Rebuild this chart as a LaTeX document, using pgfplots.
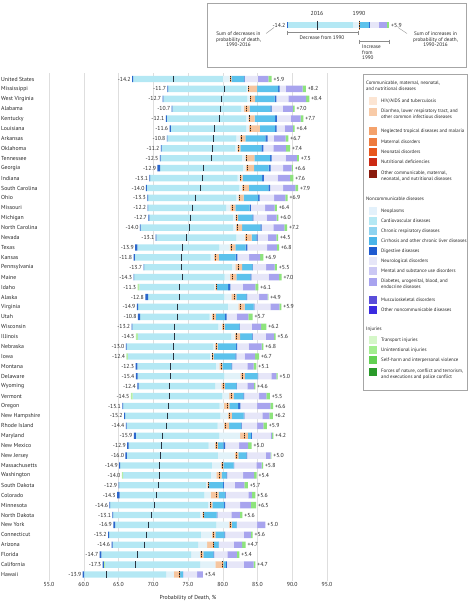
\documentclass[border=0pt]{standalone}
\usepackage{pgfplots}
\pgfplotsset{compat=1.18}
\usepackage{pgfplotstable}
\usepackage{fontspec}
\setmainfont{PT Sans}

\definecolor{cSB}{HTML}{2B66CC}
\definecolor{cSG}{HTML}{B5EEA5}
\definecolor{cCV}{HTML}{B4E8F4}
\definecolor{cNeo}{HTML}{E2F2F9}
\definecolor{cPea}{HTML}{F6C6A0}
\definecolor{cCR}{HTML}{5CC2EC}
\definecolor{cDig}{HTML}{2F6FD3}
\definecolor{cNeu}{HTML}{E6E6F8}
\definecolor{cMen}{HTML}{A8A4EE}
\definecolor{cUni}{HTML}{8EE47C}
\definecolor{cTick}{HTML}{2A3440}
\definecolor{cMark}{HTML}{F08A3C}
\definecolor{lHIV}{HTML}{FCE5D3}
\definecolor{lDia}{HTML}{F8CBA8}
\definecolor{lNTD}{HTML}{F4A26C}
\definecolor{lMat}{HTML}{EE7B3E}
\definecolor{lNeo}{HTML}{E8561C}
\definecolor{lNut}{HTML}{CC2A14}
\definecolor{lOth}{HTML}{8A1A0C}
\definecolor{lNpl}{HTML}{E3F1FB}
\definecolor{lCV}{HTML}{B4E8F4}
\definecolor{lCR}{HTML}{8ED3F0}
\definecolor{lCir}{HTML}{4AB4E8}
\definecolor{lDig}{HTML}{1F5AD0}
\definecolor{lNeu}{HTML}{E6E6F8}
\definecolor{lMen}{HTML}{CBC8F4}
\definecolor{lDia2}{HTML}{A8A3EF}
\definecolor{lMus}{HTML}{5A4EDA}
\definecolor{lONC}{HTML}{3A2AE0}
\definecolor{lTra}{HTML}{D5F7C8}
\definecolor{lUni}{HTML}{A3EE8F}
\definecolor{lSel}{HTML}{62D152}
\definecolor{lFor}{HTML}{2A9A2A}

\pgfplotstableread{
i L sb sg c p q a b k n m g M T R dec inc
1 66.95 0.15 0 12.9 1.0 0.15 0.1 1.8 0.1 1.9 1.5 0.5 81.15 72.85 87.05 -14.2 +5.9
2 72.05 0.1 0 11.3 0.2 0.1 1.2 3.0 0.25 0.9 2.4 0.45 83.75 80.25 91.95 -11.7 +8.2
3 71.35 0.1 0 12.1 0.4 0.1 0.6 2.8 0.25 1.75 2.55 0.45 84.05 79.75 92.45 -12.7 +8.4
4 72.65 0.1 0 9.9 0.4 0.3 0.5 3.0 0.2 1.6 1.45 0.25 83.35 79.65 90.35 -10.7 +7.0
5 71.8 0.15 0 11.4 0.35 0.2 0.7 2.95 0.25 1.95 1.45 0.4 83.9 79.5 91.6 -12.1 +7.7
6 72.35 0.2 0 10.8 0.4 0.2 1.4 2.2 0.2 1.15 1.2 0.25 83.95 78.75 90.35 -11.6 +6.4
7 71.95 0.1 0 9.9 0.5 0.3 0.5 2.9 0.3 0.9 1.7 0.4 82.75 78.65 89.45 -10.8 +6.7
8 71.1 0.1 0 10.6 0.3 0.2 0.25 3.0 0.3 1.45 1.8 0.6 82.3 78.5 89.7 -11.2 +7.4
9 70.95 0.1 0 11.7 0.5 0.2 1.1 2.25 0.25 2.0 1.6 0.3 83.45 78.45 90.95 -12.5 +7.5
10 70.6 0.4 0 11.9 0.4 0.2 1.0 2.1 0.3 1.8 1.2 0.2 83.5 77.2 90.1 -12.9 +6.6
11 69.45 0.1 0 12.6 0.3 0.1 0.3 2.8 0.25 2.0 1.8 0.45 82.55 77.05 90.15 -13.1 +7.6
12 68.95 0.15 0 13.3 0.35 0.2 0.8 2.8 0.25 1.9 1.75 0.4 82.95 76.85 90.85 -14.0 +7.9
13 69.15 0.1 0 12.7 0.3 0.2 0.55 2.1 0.2 2.1 1.6 0.35 82.45 76.05 89.35 -13.3 +6.9
14 69.18 0.1 0 11.2 0.6 0.3 0.45 2.05 0.15 2.05 1.4 0.3 81.38 75.58 87.78 -12.2 +6.4
15 69.3 0.15 0 12.0 0.35 0.2 0.2 2.05 0.15 1.9 1.45 0.25 82.0 75.3 88.0 -12.7 +6.0
16 68.08 0.1 0 13.3 0.4 0.2 0.7 2.65 0.15 1.7 1.6 0.4 82.08 75.28 89.28 -14.0 +7.2
17 70.35 0.1 0 11.5 1.2 0.3 0.7 0.7 0.15 1.5 1.2 0.25 83.45 74.85 87.95 -13.1 +4.5
18 67.4 0.3 0 11.8 1.5 0.3 0.5 1.5 0.25 2.85 1.4 0.3 81.3 74.2 88.1 -13.9 +6.8
19 67.16 0.2 0 10.9 0.5 0.2 0.5 2.4 0.25 1.7 1.55 0.5 78.96 74.06 85.86 -11.8 +6.9
20 68.6 0.1 0 12.6 0.5 0.5 0.5 1.45 0.1 1.9 1.2 0.35 82.3 74.1 87.8 -13.7 +5.5
21 67.16 0.1 0 13.0 0.8 0.4 0.5 2.0 0.15 2.5 1.5 0.35 81.46 74.16 88.46 -14.3 +7.0
22 67.74 0 0.25 10.8 0.15 0.1 0.1 1.65 0.3 1.8 1.8 0.45 79.04 73.84 85.14 -11.3 +6.1
23 68.85 0.4 0 11.0 1.0 0.4 0.3 1.45 0.1 1.75 1.2 0.1 81.65 73.75 86.55 -12.8 +4.9
24 67.64 0.2 0 12.9 1.5 0.3 0.6 1.3 0.1 2.3 1.3 0.3 82.54 73.54 88.44 -14.9 +5.9
25 67.8 0.3 0 10.0 0.3 0.2 0.4 1.3 0.25 1.45 1.7 0.6 78.6 73.5 84.3 -10.8 +5.7
26 66.88 0.1 0 12.4 0.5 0.2 0.2 2.1 0.1 1.7 1.35 0.75 80.08 73.08 86.28 -13.2 +6.2
27 67.5 0 0.3 13.4 0.5 0.3 0.5 1.7 0.1 1.9 1.2 0.2 82.0 73.1 87.6 -14.5 +5.6
28 66.06 0.1 0 12.5 0.25 0.15 0.2 2.65 0.15 1.65 1.9 0.25 79.06 72.86 85.86 -13.0 +6.8
29 66.15 0 0.2 11.8 0.25 0.15 0.15 3.1 0.15 1.2 1.5 0.6 78.55 72.85 85.25 -12.4 +6.7
30 67.45 0.25 0 11.3 0.5 0.25 0.2 1.3 0.1 2.2 0.9 0.4 79.75 72.55 84.85 -12.3 +5.1
31 67.5 0.25 0 12.5 2.3 0.35 0.3 1.8 0.1 1.9 0.7 0.2 82.9 72.5 87.9 -15.4 +5.0
32 67.7 0.2 0 11.0 0.9 0.3 0.2 1.65 0.1 1.5 0.95 0.2 80.1 72.3 84.7 -12.4 +4.6
33 66.78 0 0.25 12.9 1.0 0.35 0.3 1.4 0.1 2.15 1.05 0.5 81.28 72.28 86.78 -14.5 +5.5
34 65.55 0.1 0 13.9 0.6 0.5 0.3 1.25 0.35 2.4 1.9 0.4 80.65 72.15 87.25 -15.1 +6.6
35 65.8 0.15 0 13.7 1.1 0.25 0.3 1.7 0.1 2.6 1.0 0.5 81.0 72.0 87.2 -15.2 +6.2
36 66.06 0.1 0 13.1 0.9 0.3 0.45 1.7 0.1 2.25 0.9 0.5 80.46 71.96 86.36 -14.4 +5.9
37 67.2 0.3 0 12.0 3.0 0.6 0.5 0.5 0.1 2.7 0.2 0.2 83.1 71.4 87.3 -15.9 +4.2
38 66.25 0.2 0 11.5 0.9 0.3 0.15 0.8 0.25 2.0 1.3 0.5 79.15 71.25 84.15 -12.9 +5.0
39 66.0 0.2 0 13.1 2.4 0.3 0.25 1.15 0.1 2.7 0.7 0.1 82.0 71.0 87.0 -16.0 +5.0
40 65.1 0.15 0 13.2 1.3 0.25 0.1 1.45 0.1 3.2 0.75 0.2 80.0 70.9 85.8 -14.9 +5.8
41 65.48 0 0.2 12.6 0.8 0.4 0.35 0.7 0.1 2.3 1.6 0.35 79.48 70.88 84.88 -14.0 +5.4
42 65.0 0.1 0 12.5 0.2 0.1 0.15 2.0 0.1 1.6 1.35 0.5 77.9 70.7 83.6 -12.9 +5.7
43 64.8 0.35 0 12.2 0.9 0.85 0.3 0.9 0.1 3.3 0.5 0.5 79.1 70.4 84.7 -14.3 +5.6
44 63.7 0.1 0 14.1 0.25 0.15 0.2 1.7 0.15 2.15 1.55 0.75 78.3 70.2 84.8 -14.6 +6.5
45 64.13 0.1 0 12.5 0.35 0.15 0.1 1.8 0.1 2.0 1.25 0.35 77.23 69.73 82.83 -13.1 +5.6
46 64.25 0.25 0 14.6 1.8 0.25 0.15 0.7 0.05 2.9 1.2 0 81.15 69.25 86.15 -16.9 +5.0
47 63.5 0.15 0 13.2 1.6 0.25 0.25 1.3 0.1 2.7 1.0 0.25 78.7 69.1 84.3 -15.2 +5.6
48 64.0 0.15 0 12.3 1.3 0.85 0.1 0.7 0.05 2.15 1.2 0.5 78.6 68.7 83.3 -14.6 +4.7
49 62.3 0.25 0 12.9 1.3 0.25 0.2 1.45 0.1 1.9 1.4 0.35 77.0 67.7 82.4 -14.7 +5.4
50 62.7 0.2 0.15 13.7 2.2 1.05 0.1 0.35 0.15 2.45 1.4 0.25 80.0 67.4 84.7 -17.3 +4.7
51 59.85 0.2 0 11.8 1.1 0.8 0.1 0.4 0.05 2.0 0.85 0 73.75 63.25 77.15 -13.9 +3.4
}\data

\pgfplotstableread{
i L sb sg c p q a b k n m g M T R dec inc
1 66.95 0.15 0 12.9 1.0 0.15 0.1 1.8 0.1 1.9 1.5 0.5 81.15 72.85 87.05 -14.2 +5.9
}\inset

\newcommand{\fs}{\fontsize{5.8}{7}\selectfont}
\newcommand{\fl}{\fontsize{4.9}{6.4}\selectfont}
\newcommand{\fin}{\fontsize{5.2}{5.8}\selectfont}

\newcommand{\legone}[3]{%
  \fill[#2] (368.5bp,{-#1bp+3.8bp}) rectangle (376.5bp,{-#1bp-3.8bp});
  \node[anchor=west, inner sep=0pt, font=\fl, text=black!85] at (381bp,{-#1bp}) {#3};}
\newcommand{\legtwo}[3]{%
  \fill[#2] (368.5bp,{-#1bp+3.8bp}) rectangle (376.5bp,{-#1bp-3.8bp});
  \node[anchor=north west, inner sep=0pt, align=left, font=\fl, text=black!85] at (381bp,{-#1bp+3.2bp}) {#3};}

\pgfplotsset{
  segs/.style={draw=none},
}

\begin{document}
\begin{tikzpicture}
\path[use as bounding box] (0bp,0bp) rectangle (468bp,-606bp);

% ---------------- main bars
\begin{axis}[
  at={(49bp,-581bp)}, anchor=south west,
  scale only axis, width=278bp, height=508bp,
  xmin=55, xmax=95, ymin=0.395, ymax=51.66, y dir=reverse,
  xbar stacked, bar width=6.4bp,
  axis line style={draw=none},
  major tick length=0pt,
  xtick={55,60,...,95},
  /pgf/number format/assume math mode=true,
  xticklabel={\pgfmathprintnumber[fixed,fixed zerofill,precision=1]{\tick}},
  xmajorgrids, major grid style={draw=black!13, line width=0.5bp},
  ytick={1,...,51},
  yticklabels={United States, Mississippi, West Virginia, Alabama, Kentucky, Louisiana, Arkansas, Oklahoma, Tennessee, Georgia, Indiana, South Carolina, Ohio, Missouri, Michigan, North Carolina, Nevada, Texas, Kansas, Pennsylvania, Maine, Idaho, Alaska, Virginia, Utah, Wisconsin, Illinois, Nebraska, Iowa, Montana, Delaware, Wyoming, Vermont, Oregon, New Hampshire, Rhode Island, Maryland, New Mexico, New Jersey, Massachusetts, Washington, South Dakota, Colorado, Minnesota, North Dakota, New York, Connecticut, Arizona, Florida, California, Hawaii},
  yticklabel style={anchor=west, xshift=-48bp, inner sep=0pt, font=\fs, text=black!85},
  xticklabel style={font=\fs, inner sep=1.5bp, text=black!85},
  xlabel={Probability of Death, \%},
  xlabel style={at={(axis description cs:0.5,0)}, anchor=center, yshift=-17bp, font=\fs, inner sep=0pt, text=black!85},
]
\addplot[draw=none, fill=none] table[x=L,y=i]{\data};
\addplot[segs, fill=cSB] table[x=sb,y=i]{\data};
\addplot[segs, fill=cSG] table[x=sg,y=i]{\data};
\addplot[segs, fill=cCV] table[x=c,y=i]{\data};
\addplot[segs, fill=cNeo] table[x=p,y=i]{\data};
\addplot[segs, fill=cPea] table[x=q,y=i]{\data};
\addplot[segs, fill=cPea] table[x=a,y=i]{\data};
\addplot[segs, fill=cCR] table[x=b,y=i]{\data};
\addplot[segs, fill=cDig] table[x=k,y=i]{\data};
\addplot[segs, fill=cNeu] table[x=n,y=i]{\data};
\addplot[segs, fill=cMen] table[x=m,y=i]{\data};
\addplot[segs, fill=cUni] table[x=g,y=i]{\data};
\end{axis}

% ---------------- main markers and labels
\begin{axis}[
  at={(49bp,-581bp)}, anchor=south west,
  scale only axis, width=278bp, height=508bp,
  xmin=55, xmax=95, ymin=0.395, ymax=51.66, y dir=reverse,
  hide axis, clip=false,
]
\addplot[only marks, mark=|, mark size=3.2bp, mark options={draw=cMark, line width=1bp}] table[x=M,y=i]{\data};
\addplot[only marks, mark=|, mark size=3.2bp, mark options={draw=black!85, line width=1bp, dash pattern=on 1.1bp off 1.1bp}] table[x=M,y=i]{\data};
\addplot[only marks, mark=|, mark size=3.2bp, mark options={draw=cTick, line width=1bp}] table[x=T,y=i]{\data};
\addplot[only marks, mark=*, mark size=0pt, mark options={draw=none,fill=none},
  nodes near coords, point meta=explicit symbolic,
  nodes near coords style={anchor=east, font=\fs, inner sep=1.3bp, text=black!85}]
  table[x=L,y=i,meta=dec]{\data};
\addplot[only marks, mark=*, mark size=0pt, mark options={draw=none,fill=none},
  nodes near coords, point meta=explicit symbolic,
  nodes near coords style={anchor=west, font=\fs, inner sep=1.8bp, text=black!85}]
  table[x=R,y=i,meta=inc]{\data};
\end{axis}

% ---------------- inset
\draw[black!35, line width=0.5bp] (207bp,-3bp) rectangle (466bp,-67bp);
\begin{axis}[
  at={(262.2bp,-35bp)}, anchor=south west,
  scale only axis, width=152.1bp, height=20bp,
  xmin=62, xmax=92, ymin=0, ymax=2, hide axis, clip=false,
  xbar stacked, bar width=6.4bp,
]
\addplot[draw=none, fill=none] table[x=L,y=i]{\inset};
\addplot[segs, fill=cSB] table[x=sb,y=i]{\inset};
\addplot[segs, fill=cSG] table[x=sg,y=i]{\inset};
\addplot[segs, fill=cCV] table[x=c,y=i]{\inset};
\addplot[segs, fill=cNeo] table[x=p,y=i]{\inset};
\addplot[segs, fill=cPea] table[x=q,y=i]{\inset};
\addplot[segs, fill=cPea] table[x=a,y=i]{\inset};
\addplot[segs, fill=cCR] table[x=b,y=i]{\inset};
\addplot[segs, fill=cDig] table[x=k,y=i]{\inset};
\addplot[segs, fill=cNeu] table[x=n,y=i]{\inset};
\addplot[segs, fill=cMen] table[x=m,y=i]{\inset};
\addplot[segs, fill=cUni] table[x=g,y=i]{\inset};
\end{axis}
\begin{axis}[
  at={(262.2bp,-35bp)}, anchor=south west,
  scale only axis, width=152.1bp, height=20bp,
  xmin=62, xmax=92, ymin=0, ymax=2, hide axis, clip=false,
]
\addplot[only marks, mark=|, mark size=4.5bp, mark options={draw=cMark, line width=1bp}] table[x=M,y=i]{\inset};
\addplot[only marks, mark=|, mark size=4.5bp, mark options={draw=black!85, line width=1bp, dash pattern=on 1.2bp off 1.2bp}] table[x=M,y=i]{\inset};
\addplot[only marks, mark=|, mark size=4.5bp, mark options={draw=cTick, line width=1bp}] table[x=T,y=i]{\inset};
\addplot[only marks, mark=*, mark size=0pt, mark options={draw=none,fill=none},
  nodes near coords, point meta=explicit symbolic,
  nodes near coords style={anchor=east, font=\fs, inner sep=1.8bp, text=black!85}]
  table[x=L,y=i,meta=dec]{\inset};
\addplot[only marks, mark=*, mark size=0pt, mark options={draw=none,fill=none},
  nodes near coords, point meta=explicit symbolic,
  nodes near coords style={anchor=west, font=\fs, inner sep=1.8bp, text=black!85}]
  table[x=R,y=i,meta=inc]{\inset};
\end{axis}
\node[font=\fs, text=black!85, inner sep=0pt] at (317bp,-13.3bp) {2016};
\node[font=\fs, text=black!85, inner sep=0pt] at (359bp,-13.3bp) {1990};
% decrease bracket
\draw[black!45, line width=0.5bp] (287.3bp,-32.5bp) -- (358.5bp,-32.5bp)
  (287.3bp,-30.5bp) -- (287.3bp,-34.5bp) (358.5bp,-30.5bp) -- (358.5bp,-34.5bp);
\node[font=\fin, text=black!85, inner sep=0pt] at (322bp,-37.3bp) {Decrease from 1990};
% increase bracket
\draw[black!45, line width=0.5bp] (359.5bp,-41.7bp) -- (389bp,-41.7bp)
  (359.5bp,-39.7bp) -- (359.5bp,-43.7bp) (389bp,-39.7bp) -- (389bp,-43.7bp);
\node[font=\fin, text=black!85, inner sep=0pt, anchor=north west, align=left] at (362bp,-44.5bp) {Increase\\from\\1990};
% side texts
\node[font=\fin, text=black!85, inner sep=0pt, anchor=north, align=center] at (238.5bp,-31.5bp) {Sum of decreases in\\probability of death,\\1990-2016};
\node[font=\fin, text=black!85, inner sep=0pt, anchor=north, align=center] at (435.5bp,-31.5bp) {Sum of increases in\\probability of death,\\1990-2016};
\draw[black!45, line width=0.4bp] (274bp,-27.5bp) -- (266bp,-33.5bp);
\draw[black!45, line width=0.4bp] (398bp,-27.5bp) -- (407bp,-33.5bp);

% ---------------- legend
\draw[black!35, line width=0.5bp] (363bp,-74bp) rectangle (467bp,-390bp);
\node[anchor=north west, inner sep=0pt, align=left, font=\fl, text=black!85] at (366bp,-80.8bp) {Communicable, maternal, neonatal,\\and nutritional diseases};
\legone{101}{lHIV}{HIV/AIDS and tuberculosis}
\legtwo{112}{lDia}{Diarrhea, lower respiratory tract, and\\other common infectious diseases}
\legone{131}{lNTD}{Neglected tropical diseases and malaria}
\legone{142}{lMat}{Maternal disorders}
\legone{152}{lNeo}{Neonatal disorders}
\legone{162}{lNut}{Nutritional deficiencies}
\legtwo{174}{lOth}{Other communicable, maternal,\\neonatal, and nutritional diseases}
\node[anchor=west, inner sep=0pt, font=\fl, text=black!85] at (366bp,-199bp) {Noncommunicable diseases};
\legone{211}{lNpl}{Neoplasms}
\legone{221}{lCV}{Cardiovascular diseases}
\legone{231}{lCR}{Chronic respiratory diseases}
\legone{241}{lCir}{Cirrhosis and other chronic liver diseases}
\legone{251}{lDig}{Digestive diseases}
\legone{261}{lNeu}{Neurological disorders}
\legone{271}{lMen}{Mental and substance use disorders}
\legtwo{282}{lDia2}{Diabetes, urogenital, blood, and\\endocrine diseases}
\legone{300}{lMus}{Musculoskeletal disorders}
\legone{310}{lONC}{Other noncommunicable diseases}
\node[anchor=west, inner sep=0pt, font=\fl, text=black!85] at (366bp,-329bp) {Injuries};
\legone{340}{lTra}{Transport injuries}
\legone{350}{lUni}{Unintentional injuries}
\legone{360}{lSel}{Self-harm and interpersonal violence}
\legtwo{372}{lFor}{Forces of nature, conflict and terrorism,\\and executions and police conflict}
\end{tikzpicture}
\end{document}
